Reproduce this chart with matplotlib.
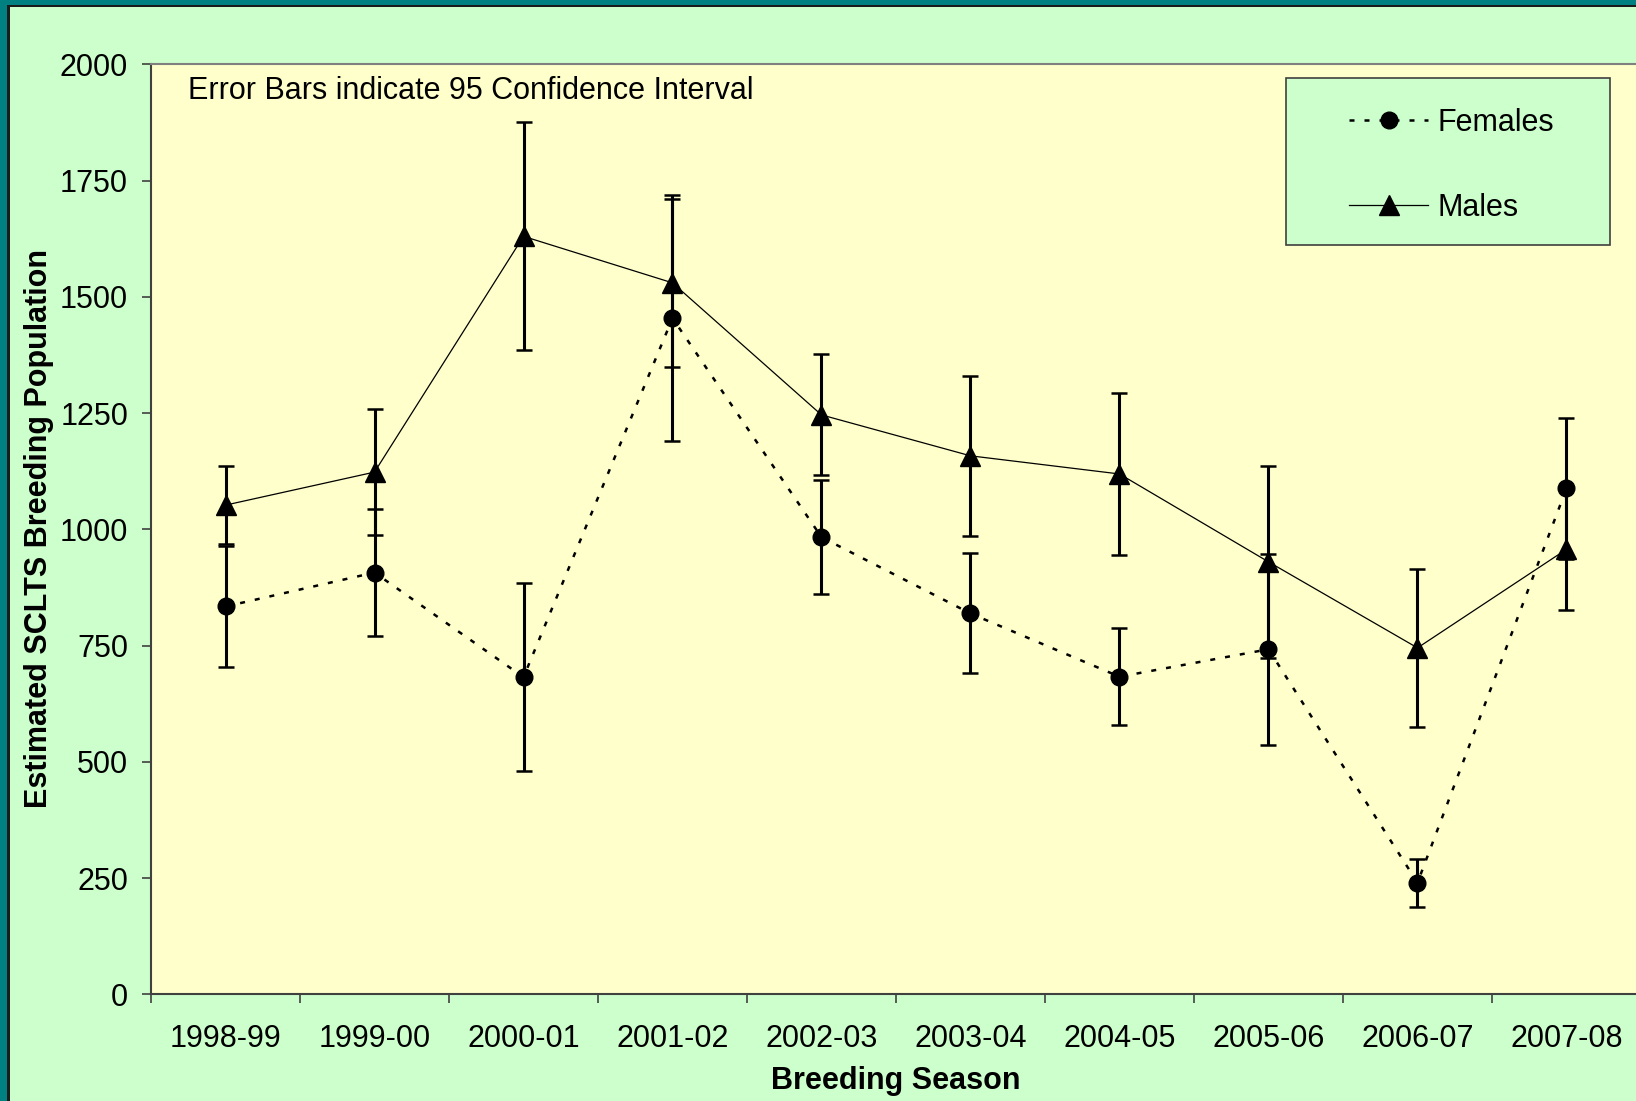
import matplotlib
matplotlib.use("Agg")
import matplotlib.pyplot as plt
from matplotlib.patches import Rectangle
from matplotlib.ticker import FixedLocator, NullFormatter

plt.rcParams['font.family'] = ['Liberation Sans', 'DejaVu Sans']

seasons = ['1998-99', '1999-00', '2000-01', '2001-02', '2002-03',
           '2003-04', '2004-05', '2005-06', '2006-07', '2007-08']
females = [834, 907, 682, 1454, 983, 819, 683, 742, 240, 1088]
females_ci = [130, 137, 202, 264, 122, 129, 104, 205, 52, 152]
males = [1052, 1123, 1630, 1530, 1246, 1158, 1119, 930, 745, 957]
males_ci = [84, 136, 245, 181, 130, 172, 174, 206, 170, 130]
y_ticks = [0, 250, 500, 750, 1000, 1250, 1500, 1750, 2000]

W, H = 1636, 1101
GREEN = '#CCFFCC'
CREAM = '#FFFFCC'
TEAL = '#008080'
FS = 22


def fx(px):
    return px / W


def fy(py):
    return (H - py) / H


fig = plt.figure(figsize=(W / 100, H / 100), dpi=100, facecolor=GREEN)

# slide frame: teal strip with a dark rule on the left and top
fig.patches.append(Rectangle((0, 0), fx(7), 1, transform=fig.transFigure,
                             facecolor=TEAL, edgecolor='none', zorder=0))
fig.patches.append(Rectangle((fx(7), 0), fx(3), fy(5), transform=fig.transFigure,
                             facecolor='#1a1a1a', edgecolor='none', zorder=0))
fig.patches.append(Rectangle((0, fy(5)), 1, fy(0) - fy(5), transform=fig.transFigure,
                             facecolor=TEAL, edgecolor='none', zorder=0))
fig.patches.append(Rectangle((fx(7), fy(7)), 1, fy(5) - fy(7), transform=fig.transFigure,
                             facecolor='#1a1a1a', edgecolor='none', zorder=0))

left, right, top, bottom = 151, 1641, 64.3, 994.3
ax = fig.add_axes([fx(left), fy(bottom), fx(right - left), fy(top) - fy(bottom)])
ax.set_facecolor(CREAM)

x = list(range(len(seasons)))

ax.errorbar(x, females, yerr=females_ci, fmt='none', ecolor='black',
            elinewidth=2.2, capsize=5.5, capthick=1.8, zorder=3)
ax.errorbar(x, males, yerr=males_ci, fmt='none', ecolor='black',
            elinewidth=2.2, capsize=5.5, capthick=1.8, zorder=3)

ax.plot(x, females, color='black', lw=1.8, dashes=(2.0, 4.0),
        marker='o', markersize=12, markerfacecolor='black',
        markeredgecolor='black', label='Females', zorder=4)
ax.plot(x, males, color='black', lw=0.9, marker='^', markersize=14,
        markerfacecolor='black', markeredgecolor='black',
        label='Males', zorder=4)

ax.set_xlim(-0.5, len(seasons) - 0.5)
ax.set_ylim(0, 2000)
ax.set_yticks(y_ticks)
ax.set_yticklabels([str(v) for v in y_ticks])
ax.set_xticks(x)
ax.set_xticklabels(seasons)
ax.xaxis.set_minor_locator(FixedLocator([i - 0.5 for i in range(len(seasons) + 1)]))
ax.xaxis.set_minor_formatter(NullFormatter())

ax.tick_params(axis='y', direction='out', length=6.5, width=1.2,
               colors='#404040', labelcolor='black', labelsize=FS, pad=10)
ax.tick_params(axis='x', which='major', length=0, labelsize=FS,
               labelcolor='black', pad=21.5)
ax.tick_params(axis='x', which='minor', direction='out', length=6.5,
               width=1.2, colors='#404040')

for side in ('left', 'bottom'):
    ax.spines[side].set_color('#404040')
    ax.spines[side].set_linewidth(1.5)
ax.spines['top'].set_color('#808080')
ax.spines['top'].set_linewidth(1.5)
ax.spines['right'].set_visible(False)

fig.text(fx(188), fy(91), 'Error Bars indicate 95 Confidence Interval',
         fontsize=FS, va='center', ha='left')

fig.text(fx(896), fy(1081), 'Breeding Season', fontsize=FS,
         fontweight='bold', ha='center', va='center')
fig.text(fx(39), fy(529), 'Estimated SCLTS Breeding Population',
         fontsize=FS, fontweight='bold', rotation=90,
         ha='center', va='center')

# legend box
fig.patches.append(Rectangle((fx(1286), fy(245)), fx(1610 - 1286), fy(78) - fy(245),
                             transform=fig.transFigure, facecolor=GREEN,
                             edgecolor='#404040', linewidth=1.2, zorder=5))
leg = fig.legend(loc='upper left', bbox_to_anchor=(fx(1349), fy(108)),
                 frameon=False, fontsize=FS, borderpad=0, borderaxespad=0,
                 handlelength=2.6, handletextpad=0.3, labelspacing=1.8)
leg.set_zorder(6)

fig.savefig('out.png', dpi=100, facecolor=GREEN)
